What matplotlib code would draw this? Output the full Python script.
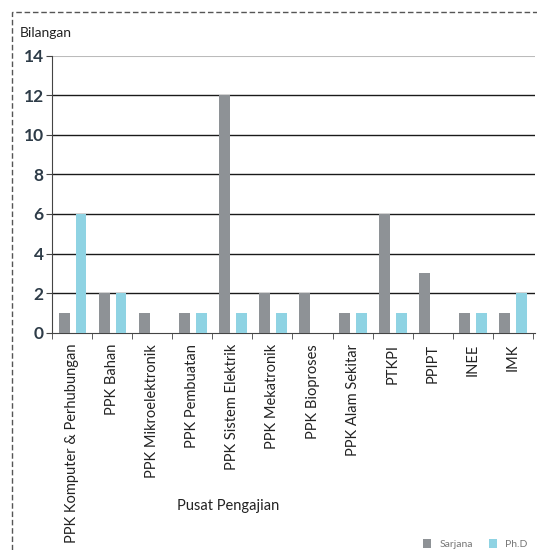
import numpy as np
import matplotlib.pyplot as plt
from matplotlib.patches import Rectangle

# data
centres = ["PPK Komputer & Perhubungan", "PPK Bahan", "PPK Mikroelektronik",
           "PPK Pembuatan", "PPK Sistem Elektrik", "PPK Mekatronik",
           "PPK Bioproses", "PPK Alam Sekitar", "PTKPI", "PPIPT", "INEE", "IMK"]
sarjana = [1, 2, 1, 1, 12, 2, 2, 1, 6, 3, 1, 1]
phd = [6, 2, 0, 1, 1, 1, 0, 1, 1, 0, 1, 2]
yticks = [0, 2, 4, 6, 8, 10, 12, 14]

plt.rcParams['font.family'] = ['Lato', 'DejaVu Sans']

fig = plt.figure(figsize=(5.37, 5.50), dpi=100)
ax = fig.add_axes([0.097, 0.395, 0.899, 0.504])

x = np.arange(len(centres))
w = 0.27
ax.bar(x - 0.2, sarjana, w, color='#8e9296', label='Sarjana', zorder=3)
ax.bar(x + 0.22, phd, w, color='#8fd3e3', label='Ph.D', zorder=3)

ax.set_xlim(-0.5, len(centres) - 0.45)
ax.set_ylim(0, 14)
ax.set_yticks(yticks)
ax.set_yticklabels([str(t) for t in yticks], fontsize=12.5, fontweight='bold', color='#2e3c48')
ax.set_xticks(x)
ax.set_xticklabels(centres, rotation=90, fontsize=10.5, color='#222222')
ax.set_xticks(np.arange(-0.5, len(centres)), minor=True)
ax.tick_params(axis='x', which='major', length=0, pad=8)
ax.tick_params(axis='x', which='minor', length=4, color='#444444')
ax.tick_params(axis='y', length=4, color='#444444', pad=2)

for t in yticks[1:-1]:
    ax.axhline(t, color='#1a1a1a', lw=1.0, zorder=1)
ax.axhline(14, color='#bbbbbb', lw=1.5, zorder=1)

for s in ['top', 'right']:
    ax.spines[s].set_visible(False)
ax.spines['left'].set_color('#444444')
ax.spines['bottom'].set_color('#444444')

fig.text(0.037, 0.932, 'Bilangan', fontsize=10, color='#222222')
fig.text(0.425, 0.072, 'Pusat Pengajian', fontsize=10.5, color='#222222', ha='center')

fig.legend(loc='lower right', bbox_to_anchor=(1.0, -0.015), ncol=2, frameon=False,
           fontsize=7.5, labelcolor='#777777', handlelength=0.8, handleheight=1.0,
           columnspacing=1.5)

# outer chart frame
fig.patches.append(Rectangle((0.022, -0.05), 1.2, 1.028, transform=fig.transFigure,
                             fill=False, edgecolor='#555555', lw=1, linestyle=(0, (4, 2))))

fig.savefig('out.png', dpi=100)
